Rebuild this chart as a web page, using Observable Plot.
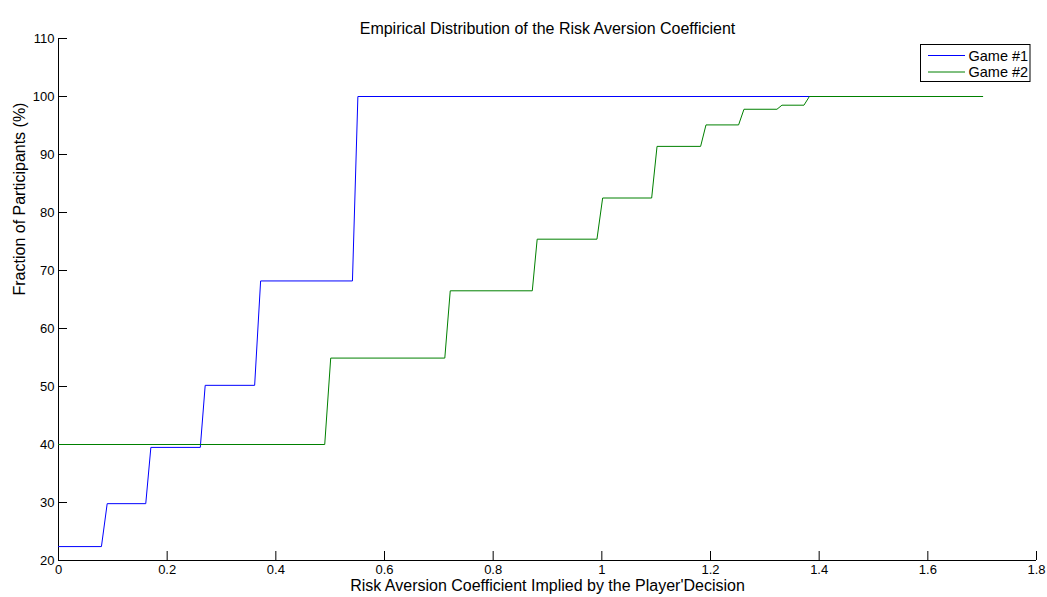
<!DOCTYPE html>
<html>
<head>
<meta charset="utf-8">
<script src="https://cdn.jsdelivr.net/npm/d3@7"></script>
<script src="https://cdn.jsdelivr.net/npm/@observablehq/plot@0.6"></script>
<style>
  html, body { margin: 0; padding: 0; background: #fff; }
  #chart { position: relative; width: 1047px; height: 597px; }
</style>
</head>
<body>
<div id="chart"></div>
<script>
const titleText = "Empirical Distribution of the Risk Aversion Coefficient";
const xLabel = "Risk Aversion Coefficient Implied by the Player'Decision";
const yLabel = "Fraction of Participants (%)";
const seriesNames = ["Game #1", "Game #2"];
const seriesColors = ["#0000ff", "#008000"];

const xTicks = [0, 0.2, 0.4, 0.6, 0.8, 1, 1.2, 1.4, 1.6, 1.8];
const yTicks = [20, 30, 40, 50, 60, 70, 80, 90, 100, 110];

const game1X = [0, 0.079, 0.0896, 0.1606, 0.170, 0.261, 0.270, 0.361, 0.372, 0.541, 0.551, 1.382];
const game1Y = [22.4, 22.4, 29.8, 29.8, 39.5, 39.5, 50.2, 50.2, 68.2, 68.2, 100, 100];

const game2X = [0, 0.490, 0.501, 0.711, 0.721, 0.872, 0.881, 0.991, 1.0015, 1.0917, 1.1016, 1.1818, 1.1917, 1.2517, 1.2616, 1.3223, 1.3315, 1.372, 1.382, 1.701];
const game2Y = [40, 40, 54.9, 54.9, 66.5, 66.5, 75.4, 75.4, 82.5, 82.5, 91.4, 91.4, 95.1, 95.1, 97.8, 97.8, 98.5, 98.5, 100, 100];

const game1 = game1X.map((x, i) => ({x, y: game1Y[i]}));
const game2 = game2X.map((x, i) => ({x, y: game2Y[i]}));

const font = "'Liberation Sans', Arial, Helvetica, sans-serif";

const plot = Plot.plot({
  width: 1047,
  height: 597,
  marginLeft: 58,
  marginRight: 11,
  marginTop: 38,
  marginBottom: 37,
  style: {fontFamily: font, fontSize: "13px", color: "#000", background: "#fff"},
  x: {domain: [0, 1.8]},
  y: {domain: [20, 110]},
  marks: [
    Plot.ruleY([20], {stroke: "#000", strokeWidth: 1}),
    Plot.ruleX([0], {stroke: "#000", strokeWidth: 1}),
    Plot.axisX(xTicks, {tickSize: -9, tickPadding: 13, tickFormat: d => String(d), label: null, stroke: "#000", fill: "#000", fontSize: 13}),
    Plot.axisY(yTicks, {tickSize: -9, tickPadding: 13, tickFormat: d => String(d), label: null, stroke: "#000", fill: "#000", fontSize: 13}),
    Plot.line(game1, {x: "x", y: "y", stroke: seriesColors[0], strokeWidth: 1}),
    Plot.line(game2, {x: "x", y: "y", stroke: seriesColors[1], strokeWidth: 1}),
    Plot.text([titleText], {frameAnchor: "top", dy: -16, text: d => d, fill: "#000", fontSize: 16}),
    Plot.text([xLabel], {frameAnchor: "bottom", dy: 30.5, text: d => d, fill: "#000", fontSize: 16}),
    Plot.text([yLabel], {frameAnchor: "left", dx: -39, dy: -4, rotate: -90, text: d => d, fill: "#000", fontSize: 16})
  ]
});

document.getElementById("chart").appendChild(plot);

// Legend (drawn into the same SVG)
const svg = d3.select(plot);
const lg = svg.append("g").attr("font-family", font).attr("font-size", 14.5).attr("text-anchor", "start");
lg.append("rect").attr("x", 920.5).attr("y", 44.5).attr("width", 109.5).attr("height", 37)
  .attr("fill", "#fff").attr("stroke", "#000").attr("stroke-width", 1);
seriesNames.forEach((name, i) => {
  const cy = 55.5 + i * 16.5;
  lg.append("line").attr("x1", 928).attr("x2", 965).attr("y1", cy).attr("y2", cy)
    .attr("stroke", seriesColors[i]).attr("stroke-width", 1);
  lg.append("text").attr("x", 968.5).attr("y", cy).attr("dy", "0.35em").attr("fill", "#000")
    .attr("text-anchor", "start").text(name);
});
</script>
</body>
</html>
